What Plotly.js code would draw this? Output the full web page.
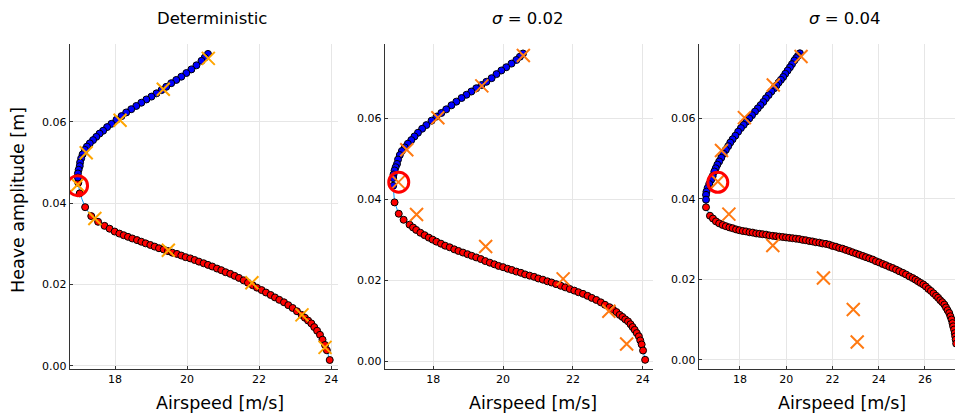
<!DOCTYPE html>
<html>
<head>
<meta charset="utf-8">
<script src="https://cdn.plot.ly/plotly-3.0.1.min.js"></script>
<style>html,body{margin:0;padding:0;background:#fff;}#chart{width:955px;height:413px;}</style>
</head>
<body>
<div id="chart"></div>
<script>
// ---------- Panel titles / tick values ----------
const panelTitles = ["Deterministic", "<i>\u03C3</i> = 0.02", "<i>\u03C3</i> = 0.04"];
const xTickVals = [[18, 20, 22, 24], [18, 20, 22, 24], [18, 20, 22, 24, 26]];
const yTickVals = [0.00, 0.02, 0.04, 0.06];
const xLabel = "Airspeed [m/s]";
const yLabel = "Heave amplitude [m]";

// ---------- Deterministic: stable (upper, blue) branch ----------
const det_up_x = [20.58,20.49,20.40,20.26,20.12,19.98,19.84,19.70,19.56,19.42,19.29,19.15,19.01,18.87,18.73,18.59,18.45,18.31,18.18,18.04,17.90,17.78,17.67,17.57,17.48,17.39,17.30,17.22,17.16,17.10,17.06,17.03,17.02,16.99,16.97,16.97];
const det_up_y = [0.0767,0.0758,0.0750,0.0739,0.0729,0.0720,0.0711,0.0703,0.0695,0.0686,0.0678,0.0670,0.0662,0.0655,0.0647,0.0639,0.0631,0.0623,0.0614,0.0605,0.0595,0.0587,0.0578,0.0571,0.0563,0.0555,0.0547,0.0539,0.0531,0.0520,0.0510,0.0500,0.0491,0.0482,0.0473,0.0463];
// ---------- Deterministic: unstable (lower, red) branch ----------
const det_lo_x = [16.98,17.02,17.17,17.34,17.53,17.71,17.85,17.99,18.12,18.24,18.36,18.48,18.61,18.73,18.85,18.98,19.10,19.22,19.35,19.47,19.59,19.72,19.84,19.96,20.09,20.21,20.33,20.46,20.58,20.70,20.83,20.95,21.07,21.20,21.32,21.44,21.57,21.69,21.82,21.94,22.07,22.19,22.32,22.44,22.56,22.69,22.81,22.93,23.05,23.18,23.27,23.36,23.45,23.53,23.61,23.69,23.76,23.83,23.88,23.96];
const det_lo_y = [0.0450,0.0424,0.0390,0.0368,0.0354,0.0344,0.0337,0.0330,0.0325,0.0321,0.0317,0.0313,0.0309,0.0305,0.0301,0.0297,0.0293,0.0289,0.0286,0.0282,0.0278,0.0275,0.0271,0.0267,0.0264,0.0260,0.0256,0.0252,0.0248,0.0244,0.0239,0.0235,0.0230,0.0226,0.0221,0.0216,0.0210,0.0204,0.0198,0.0192,0.0186,0.0180,0.0174,0.0168,0.0162,0.0156,0.0149,0.0142,0.0134,0.0125,0.0118,0.0111,0.0104,0.0095,0.0086,0.0076,0.0064,0.0051,0.0038,0.0014];

// ---------- sigma = 0.02 ----------
const s02_up_x = [20.57,20.48,20.38,20.24,20.09,19.95,19.81,19.67,19.52,19.38,19.23,19.09,18.95,18.81,18.66,18.52,18.37,18.23,18.09,17.95,17.80,17.68,17.56,17.46,17.37,17.27,17.18,17.10,17.04,16.99,16.96,16.92,16.89,16.86,16.85,16.85];
const s02_up_y = [0.0761,0.0753,0.0745,0.0736,0.0727,0.0719,0.0710,0.0700,0.0691,0.0683,0.0675,0.0667,0.0659,0.0651,0.0642,0.0633,0.0623,0.0614,0.0605,0.0595,0.0584,0.0575,0.0565,0.0556,0.0547,0.0538,0.0529,0.0520,0.0510,0.0499,0.0488,0.0480,0.0472,0.0462,0.0453,0.0434];
const s02_lo_x = [16.89,17.01,17.15,17.32,17.42,17.51,17.63,17.75,17.87,17.98,18.09,18.22,18.34,18.47,18.60,18.72,18.85,18.98,19.10,19.23,19.36,19.49,19.62,19.75,19.87,20.00,20.13,20.25,20.38,20.51,20.63,20.76,20.89,21.01,21.14,21.27,21.39,21.52,21.65,21.78,21.91,22.04,22.16,22.29,22.42,22.54,22.67,22.80,22.92,23.05,23.15,23.25,23.34,23.42,23.50,23.58,23.65,23.71,23.77,23.83,23.89,23.93,23.97,24.01,24.07];
const s02_lo_y = [0.0393,0.0365,0.0350,0.0338,0.0331,0.0325,0.0318,0.0312,0.0306,0.0301,0.0296,0.0291,0.0286,0.0282,0.0277,0.0273,0.0269,0.0265,0.0261,0.0257,0.0253,0.0248,0.0244,0.0240,0.0236,0.0233,0.0229,0.0226,0.0222,0.0219,0.0215,0.0212,0.0209,0.0205,0.0202,0.0198,0.0195,0.0191,0.0187,0.0183,0.0179,0.0175,0.0171,0.0167,0.0162,0.0157,0.0152,0.0146,0.0140,0.0134,0.0128,0.0122,0.0115,0.0110,0.0104,0.0099,0.0092,0.0085,0.0078,0.0070,0.0062,0.0052,0.0042,0.0027,0.0004];

// ---------- sigma = 0.04 ----------
const s04_up_x = [20.59,20.51,20.43,20.35,20.25,20.16,20.06,19.96,19.87,19.77,19.67,19.58,19.48,19.36,19.24,19.12,19.01,18.89,18.77,18.65,18.52,18.40,18.28,18.16,18.04,17.92,17.80,17.68,17.58,17.49,17.39,17.29,17.19,17.10,17.02,16.95,16.89,16.82,16.75,16.67,16.60,16.55,16.53,16.53];
const s04_up_y = [0.0762,0.0756,0.0750,0.0744,0.0735,0.0727,0.0719,0.0711,0.0703,0.0696,0.0689,0.0682,0.0675,0.0667,0.0658,0.0650,0.0641,0.0633,0.0625,0.0617,0.0608,0.0600,0.0592,0.0584,0.0576,0.0567,0.0557,0.0548,0.0540,0.0531,0.0522,0.0512,0.0502,0.0493,0.0485,0.0476,0.0468,0.0457,0.0447,0.0437,0.0427,0.0418,0.0410,0.0398];
const s04_lo_x = [16.53,16.70,16.83,16.96,17.10,17.25,17.39,17.54,17.68,17.83,17.97,18.12,18.26,18.41,18.55,18.70,18.84,18.98,19.13,19.27,19.42,19.56,19.70,19.85,19.99,20.13,20.28,20.42,20.56,20.71,20.85,21.00,21.14,21.28,21.43,21.57,21.72,21.86,22.00,22.15,22.29,22.44,22.58,22.73,22.87,23.02,23.16,23.31,23.45,23.59,23.74,23.88,24.02,24.17,24.31,24.46,24.60,24.75,24.89,25.04,25.18,25.33,25.47,25.59,25.70,25.81,25.93,26.04,26.15,26.26,26.37,26.48,26.57,26.66,26.75,26.84,26.91,26.98,27.05,27.10,27.15,27.19,27.22,27.26,27.29,27.31,27.33,27.35];
const s04_lo_y = [0.0379,0.0358,0.0351,0.0344,0.0339,0.0335,0.0332,0.0329,0.0327,0.0324,0.0322,0.0320,0.0319,0.0317,0.0316,0.0314,0.0313,0.0312,0.0311,0.0309,0.0308,0.0307,0.0306,0.0305,0.0304,0.0303,0.0302,0.0301,0.0300,0.0298,0.0297,0.0295,0.0294,0.0292,0.0291,0.0289,0.0288,0.0286,0.0283,0.0281,0.0278,0.0276,0.0273,0.0270,0.0267,0.0264,0.0261,0.0258,0.0255,0.0252,0.0249,0.0245,0.0242,0.0238,0.0235,0.0231,0.0228,0.0224,0.0220,0.0216,0.0212,0.0207,0.0203,0.0199,0.0195,0.0191,0.0187,0.0182,0.0176,0.0171,0.0165,0.0159,0.0154,0.0148,0.0143,0.0137,0.0130,0.0123,0.0116,0.0108,0.0100,0.0091,0.0083,0.0075,0.0066,0.0058,0.0050,0.0040];

// ---------- Experimental points (orange crosses) ----------
const exp_det_x = [20.59,19.34,18.14,17.20,16.96,17.44,19.48,21.80,23.19,23.83];
const exp_det_y = [0.0756,0.0680,0.0604,0.0524,0.0445,0.0362,0.0284,0.0204,0.0125,0.0045];
const exp_s02_x = [20.58,19.39,18.13,17.24,17.00,17.52,19.50,21.72,23.03,23.54];
const exp_s02_y = [0.0756,0.0681,0.0602,0.0523,0.0443,0.0363,0.0284,0.0204,0.0124,0.0043];
const exp_s04_x = [20.64,19.44,18.19,17.20,17.04,17.52,19.42,21.61,22.90,23.07];
const exp_s04_y = [0.0754,0.0683,0.0602,0.0520,0.0443,0.0362,0.0284,0.0203,0.0125,0.0044];

// ---------- Hopf / fold point (red open circle) ----------
const fold_x = [16.96, 17.01, 17.04];
const fold_y = [0.0443, 0.0443, 0.0441];

const panels = [
  {ux: det_up_x, uy: det_up_y, lx: det_lo_x, ly: det_lo_y, ex: exp_det_x, ey: exp_det_y, ecol: '#ffa500'},
  {ux: s02_up_x, uy: s02_up_y, lx: s02_lo_x, ly: s02_lo_y, ex: exp_s02_x, ey: exp_s02_y, ecol: '#ff7a12'},
  {ux: s04_up_x, uy: s04_up_y, lx: s04_lo_x, ly: s04_lo_y, ex: exp_s04_x, ey: exp_s04_y, ecol: '#ff7a12'}
];

const traces = [];
panels.forEach((p, i) => {
  const xa = i === 0 ? 'x' : 'x' + (i + 1);
  const ya = i === 0 ? 'y' : 'y' + (i + 1);
  traces.push({x: p.ux.concat(p.lx), y: p.uy.concat(p.ly), xaxis: xa, yaxis: ya, type: 'scatter', mode: 'lines',
    line: {color: '#009afa', width: 1}, hoverinfo: 'skip', showlegend: false});
  traces.push({x: p.lx, y: p.ly, xaxis: xa, yaxis: ya, type: 'scatter', mode: 'markers',
    marker: {symbol: 'circle', size: 7, color: '#ff0000', line: {color: '#000', width: 1}}, showlegend: false});
  traces.push({x: p.ux, y: p.uy, xaxis: xa, yaxis: ya, type: 'scatter', mode: 'markers',
    marker: {symbol: 'circle', size: 7, color: '#0000ff', line: {color: '#000', width: 1}}, showlegend: false});
  traces.push({x: p.ex, y: p.ey, xaxis: xa, yaxis: ya, type: 'scatter', mode: 'markers',
    marker: {symbol: 'x-thin', size: 13, color: p.ecol, line: {color: p.ecol, width: 2}}, showlegend: false});
  traces.push({x: [fold_x[i]], y: [fold_y[i]], xaxis: xa, yaxis: ya, type: 'scatter', mode: 'markers',
    marker: {symbol: 'circle-open', size: 20, color: '#ff0000', line: {color: '#ff0000', width: 3}}, showlegend: false});
});

const W = 955, H = 413;
const xDomains = [[70 / W, 338 / W], [385 / W, 653 / W], [699 / W, 1.0]];
const xRanges = [[16.75, 24.19], [16.616, 24.295], [16.227, 27.30]];
const yRanges = [[-0.00074, 0.07907], [-0.0018, 0.07837], [-0.00224, 0.07843]];
const yDom = [1 - 368.7 / H, 1 - 44.3 / H];

const tickFont = {family: 'DejaVu Sans', size: 11, color: '#000'};
const layout = {
  width: W, height: H,
  margin: {l: 0, r: 0, t: 0, b: 0},
  paper_bgcolor: '#fff', plot_bgcolor: '#fff',
  font: {family: 'DejaVu Sans', color: '#000'},
  showlegend: false,
  annotations: []
};
for (let i = 0; i < 3; i++) {
  const sx = i === 0 ? '' : String(i + 1);
  layout['xaxis' + sx] = {
    domain: xDomains[i], range: xRanges[i], anchor: 'y' + sx,
    tickvals: xTickVals[i], ticktext: xTickVals[i].map(String),
    showgrid: true, gridcolor: '#e6e6e6', gridwidth: 1, zeroline: false,
    showline: true, linecolor: '#333', linewidth: 1.3, mirror: false,
    ticks: 'inside', ticklen: 3, tickcolor: '#333', tickfont: tickFont
  };
  layout['yaxis' + sx] = {
    domain: yDom, range: yRanges[i], anchor: 'x' + sx,
    tickvals: yTickVals, ticktext: yTickVals.map(v => v.toFixed(2)),
    showgrid: true, gridcolor: '#e6e6e6', gridwidth: 1, zeroline: false,
    showline: true, linecolor: '#333', linewidth: 1.3, mirror: false,
    ticks: 'inside', ticklen: 3, tickcolor: '#333', tickfont: tickFont
  };
}
const titleX = [212, 528, 845];
const labelX = [220, 533, 842];
for (let i = 0; i < 3; i++) {
  layout.annotations.push({text: panelTitles[i], xref: 'paper', yref: 'paper', x: titleX[i] / W, y: 1 - 18 / H,
    xanchor: 'center', yanchor: 'middle', showarrow: false, font: {family: 'DejaVu Sans', size: 16.5, color: '#000'}});
  layout.annotations.push({text: xLabel, xref: 'paper', yref: 'paper', x: labelX[i] / W, y: 1 - 403 / H,
    xanchor: 'center', yanchor: 'middle', showarrow: false, font: {family: 'DejaVu Sans', size: 17.5, color: '#000'}});
}
layout.annotations.push({text: yLabel, xref: 'paper', yref: 'paper', x: 18 / W, y: 1 - 200 / H, textangle: -90,
  xanchor: 'center', yanchor: 'middle', showarrow: false, font: {family: 'DejaVu Sans', size: 17.5, color: '#000'}});

Plotly.newPlot('chart', traces, layout, {staticPlot: true, displayModeBar: false});
</script>
</body>
</html>
